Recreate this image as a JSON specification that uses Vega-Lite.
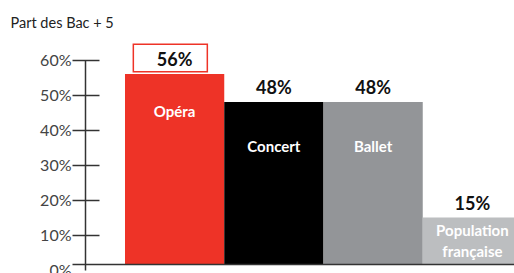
{
  "$schema": "https://vega.github.io/schema/vega-lite/v6.json",
  "autosize": {"type": "none"},
  "padding": {"left": 72, "top": 60, "right": 0, "bottom": 9},
  "width": 442,
  "height": 204,
  "background": "white",
  "config": {"view": {"stroke": null}},
  "data": {"values": [
    {"cat": "Opéra", "value": 0.56},
    {"cat": "Concert", "value": 0.48},
    {"cat": "Ballet", "value": 0.48},
    {"cat": "Population française", "value": 0.15}
  ]},
  "encoding": {
    "x": {
      "field": "cat", "type": "nominal", "sort": null,
      "scale": {"type": "band", "range": [0, 450], "paddingInner": 0, "paddingOuter": 0.267, "align": 1},
      "axis": {"title": null, "labels": false, "ticks": false, "domain": true, "domainColor": "#333333", "domainWidth": 1.5, "zindex": 1}
    }
  },
  "layer": [
    {
      "mark": {"type": "bar", "clip": true},
      "encoding": {
        "y": {
          "field": "value", "type": "quantitative",
          "scale": {"domain": [0, 0.6], "range": [210, 0], "nice": false},
          "axis": {
            "orient": "left", "offset": -27, "values": [0, 0.1, 0.2, 0.3, 0.4, 0.5, 0.6], "format": ".0%",
            "domain": false, "grid": false, "tickSize": 27, "tickWidth": 1.5, "tickColor": "#333333",
            "tickOpacity": {"condition": {"test": "datum.value === 0", "value": 0}, "value": 1},
            "labelPadding": 1, "labelFont": "Lato", "labelFontSize": 16, "labelColor": "#444444",
            "title": "Part des Bac + 5", "titleAngle": 0, "titleX": -89, "titleY": -33,
            "titleAlign": "left", "titleBaseline": "alphabetic",
            "titleFont": "Lato",
            "titleFontSize": 14.5, "titleFontWeight": "normal", "titleColor": "#222222"
          }
        },
        "color": {
          "field": "cat", "type": "nominal", "legend": null,
          "scale": {"domain": ["Opéra", "Concert", "Ballet", "Population française"], "range": ["#ee3327", "#000000", "#939598", "#bcbec0"]}
        }
      }
    },
    {
      "transform": [{"filter": "datum.cat === 'Opéra'"}],
      "mark": {"type": "point", "shape": "M-1,-0.37L1,-0.37L1,0.37L-1,0.37Z", "size": 5476, "filled": false, "stroke": "#ee3327", "strokeWidth": 1.5, "opacity": 1, "xOffset": -4.3, "yOffset": -16},
      "encoding": {
        "y": {"field": "value", "type": "quantitative", "axis": null}
      }
    },
    {
      "mark": {"type": "text", "dy": -8, "baseline": "alphabetic", "align": "center", "font": "Lato", "fontSize": 18, "fontWeight": "bold", "color": "#111111"},
      "encoding": {
        "y": {
          "field": "value", "type": "quantitative",
          "axis": {"orient": "left", "offset": -13, "domain": true, "domainColor": "#333333", "domainWidth": 1.5, "ticks": false, "labels": false, "grid": false, "title": null}
        },
        "text": {"field": "value", "type": "quantitative", "format": ".0%"}
      }
    },
    {
      "transform": [{"filter": "datum.cat === 'Opéra'"}],
      "mark": {"type": "text", "dy": 43, "baseline": "alphabetic", "align": "center", "font": "Lato", "fontSize": 15, "fontWeight": "bold", "color": "white"},
      "encoding": {
        "y": {"field": "value", "type": "quantitative", "axis": null},
        "text": {"field": "cat"}
      }
    },
    {
      "transform": [{"filter": "datum.cat === 'Concert' || datum.cat === 'Ballet'"}],
      "mark": {"type": "text", "dy": 50, "baseline": "alphabetic", "align": "center", "font": "Lato", "fontSize": 15, "fontWeight": "bold", "color": "white"},
      "encoding": {
        "y": {"field": "value", "type": "quantitative", "axis": null},
        "text": {"field": "cat"}
      }
    },
    {
      "transform": [{"filter": "datum.cat === 'Population française'"}],
      "mark": {"type": "text", "dy": 18, "baseline": "alphabetic", "align": "center", "lineBreak": " ", "lineHeight": 21, "font": "Lato", "fontSize": 15, "fontWeight": "bold", "color": "white"},
      "encoding": {
        "y": {"field": "value", "type": "quantitative", "axis": null},
        "text": {"field": "cat"}
      }
    }
  ],
  "resolve": {"axis": {"y": "independent"}}
}
